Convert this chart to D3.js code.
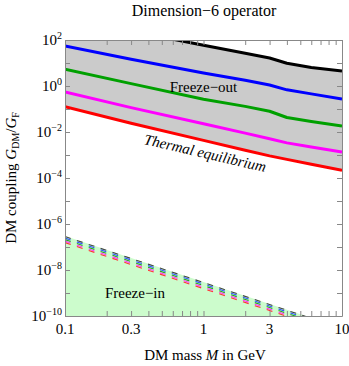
<!DOCTYPE html>
<html><head><meta charset="utf-8">
<script src="https://cdn.jsdelivr.net/npm/d3@7"></script>
<style>
body{margin:0;background:#fff;}
svg{display:block;font-family:"Liberation Serif","Times New Roman",serif;}
</style></head>
<body><svg id="c" width="349" height="366"></svg>
<script>
// ---- data ----
const mass = [0.1, 0.3, 1, 2, 3, 4, 6, 10];
const blackG   = [906, 244, 59.4, 26.3, 16.5, 9.7, 6.41, 4.45];
const blueG    = [54.8, 14.6, 3.67, 1.79, 1.10, 0.68, 0.454, 0.272];
const greenG   = [5.32, 1.27, 0.264, 0.130, 0.080, 0.0427, 0.0289, 0.0182];
const magentaG = [0.548, 0.115, 0.0228, 0.00895, 0.00512, 0.00337, 0.00225, 0.00135];
const redG     = [0.126, 0.0239, 0.00431, 0.0016, 0.000914, 0.000645, 0.000394, 0.000214];

const freezeInMass = [0.1, 10];
const freezeInG    = [3.0e-7, 3.0e-11];
const dashedBlack   = [2.85e-7, 2.85e-11];
const dashedBlue    = [2.45e-7, 2.45e-11];
const dashedGreen   = [2.1e-7, 2.1e-11];
const dashedMagenta = [1.8e-7, 1.8e-11];
const dashedRed     = [1.55e-7, 1.55e-11];

const massTicks = [0.1,0.2,0.3,0.4,0.5,0.6,0.7,0.8,0.9,1,2,3,4,5,6,7,8,9,10];
const massLabels = [0.1, 0.3, 1, 3, 10];
const couplingExps = [2,1,0,-1,-2,-3,-4,-5,-6,-7,-8,-9,-10];
const couplingLabelExps = [2,0,-2,-4,-6,-8,-10];

// ---- layout ----
const L = 65, R = 342, T = 40, B = 316;
const svg = d3.select("#c");
const x = d3.scaleLog().domain([0.1, 10]).range([L, R]);
const y = d3.scaleLog().domain([1e-10, 1e2]).range([B, T]);

svg.append("defs").append("clipPath").attr("id","clip")
  .append("rect").attr("x",L).attr("y",T).attr("width",R-L).attr("height",B-T);

const plot = svg.append("g").attr("clip-path","url(#clip)");

// grey thermal region between red and black
const idx = mass.map((d,i)=>i);
plot.append("path")
  .attr("d", d3.area().x(i=>x(mass[i])).y0(i=>y(redG[i])).y1(i=>y(blackG[i]))(idx))
  .attr("fill","#cbcbcb");

// freeze-in region
plot.append("path")
  .attr("d", d3.area().x((m,i)=>x(m)).y0(B+5).y1((m,i)=>y(freezeInG[i]))(freezeInMass))
  .attr("fill","#ccfccc");

// dashed freeze-in lines
[[dashedBlack,"#444"],[dashedBlue,"#3355ff"],[dashedGreen,"#22aa22"],[dashedMagenta,"#ff33ff"],[dashedRed,"#ff3333"]]
.forEach(([arr,col])=>{
  plot.append("path")
    .attr("d", d3.line().x((m)=>x(m)).y((m,i)=>y(arr[i]))(freezeInMass))
    .attr("fill","none").attr("stroke",col).attr("stroke-width",1.1)
    .attr("stroke-dasharray","6,6.5");
});

// thermal lines
[[blackG,"#000"],[blueG,"#0000ff"],[greenG,"#00a000"],[magentaG,"#ff00ff"],[redG,"#ff0000"]]
.forEach(([arr,col])=>{
  plot.append("path")
    .attr("d", d3.line().x(i=>x(mass[i])).y(i=>y(arr[i]))(idx))
    .attr("fill","none").attr("stroke",col).attr("stroke-width",3)
    .attr("stroke-linejoin","round");
});

// ---- axes ----
const yTickVals = couplingExps.map(e=>Math.pow(10,e));
function styleAxis(g){
  g.selectAll("path.domain").attr("stroke","#888");
  g.selectAll(".tick line").attr("stroke","#888");
}
const gl = svg.append("g").attr("transform",`translate(${L},0)`)
  .call(d3.axisLeft(y).tickValues(yTickVals).tickSize(-5).tickSizeOuter(0).tickPadding(4).tickFormat(""));
styleAxis(gl);
const gr = svg.append("g").attr("transform",`translate(${R},0)`)
  .call(d3.axisRight(y).tickValues(yTickVals).tickSize(-5).tickSizeOuter(0).tickFormat(""));
styleAxis(gr);
const gb = svg.append("g").attr("transform",`translate(0,${B})`)
  .call(d3.axisBottom(x).tickValues(massTicks).tickSize(-5).tickSizeOuter(0).tickFormat(""));
styleAxis(gb);
const gt = svg.append("g").attr("transform",`translate(0,${T})`)
  .call(d3.axisTop(x).tickValues(massTicks).tickSize(-5).tickSizeOuter(0).tickFormat(""));
styleAxis(gt);

// y labels with superscripts
couplingLabelExps.forEach(e=>{
  const t = svg.append("text").attr("x", L-3).attr("y", y(Math.pow(10,e))+5)
    .attr("text-anchor","end").attr("font-size",15).attr("fill","#000");
  t.append("tspan").text("10");
  t.append("tspan").attr("font-size",10).attr("dy",-6).text(e<0 ? "\u2212"+(-e) : String(e));
});
// x labels
massLabels.forEach(m=>{
  svg.append("text").attr("x", x(m)).attr("y", B+18)
    .attr("text-anchor","middle").attr("font-size",15).text(String(m));
});

// titles
svg.append("text").attr("x",204).attr("y",16).attr("text-anchor","middle")
  .attr("font-size",16).text("Dimension\u22126 operator");
const xl = svg.append("text").attr("x",205).attr("y",360).attr("text-anchor","middle").attr("font-size",15);
xl.append("tspan").text("DM mass ");
xl.append("tspan").attr("font-style","italic").text("M");
xl.append("tspan").text(" in GeV");

const yl = svg.append("text").attr("transform","translate(16,178) rotate(-90)")
  .attr("text-anchor","middle").attr("font-size",15);
yl.append("tspan").text("DM coupling ");
yl.append("tspan").attr("font-style","italic").text("G");
yl.append("tspan").attr("font-size",10).attr("dy",3).text("DM");
yl.append("tspan").attr("dy",-3).text("/");
yl.append("tspan").attr("font-style","italic").text("G");
yl.append("tspan").attr("font-size",10).attr("dy",3).text("F");

// region labels
svg.append("text").attr("x",x(1)).attr("y",92).attr("text-anchor","middle")
  .attr("font-size",15).text("Freeze\u2212out");
svg.append("text").attr("transform","translate(204,158) rotate(13)")
  .attr("text-anchor","middle").attr("font-size",15).attr("font-style","italic")
  .text("Thermal equilibrium");
svg.append("text").attr("x",135).attr("y",298).attr("text-anchor","middle")
  .attr("font-size",15).text("Freeze\u2212in");
</script></body></html>
